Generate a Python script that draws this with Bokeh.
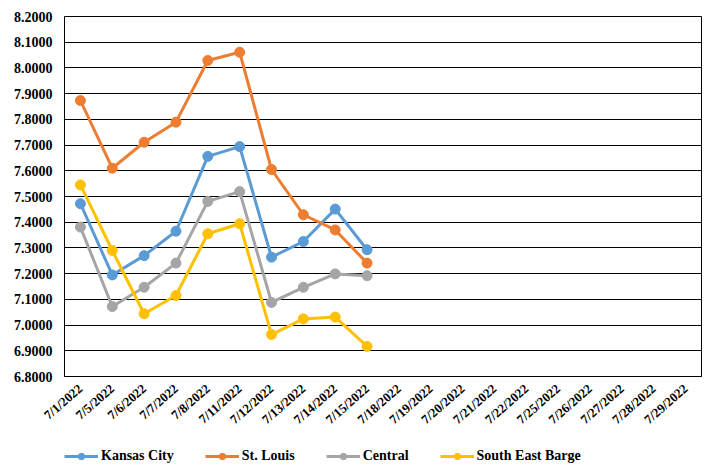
from bokeh.plotting import figure
from bokeh.layouts import column
from bokeh.models import (FactorRange, Range1d, FixedTicker, NumeralTickFormatter,
                          Legend, LegendItem)
from bokeh.embed import file_html
from bokeh.resources import INLINE

dates = ["7/1/2022", "7/5/2022", "7/6/2022", "7/7/2022", "7/8/2022", "7/11/2022",
         "7/12/2022", "7/13/2022", "7/14/2022", "7/15/2022", "7/18/2022", "7/19/2022",
         "7/20/2022", "7/21/2022", "7/22/2022", "7/25/2022", "7/26/2022", "7/27/2022",
         "7/28/2022", "7/29/2022"]
data_dates = dates[:10]

kansas_city = [7.472, 7.195, 7.270, 7.365, 7.656, 7.694, 7.264, 7.325, 7.451, 7.293]
st_louis = [7.873, 7.610, 7.711, 7.789, 8.029, 8.061, 7.605, 7.429, 7.370, 7.241]
central = [7.381, 7.072, 7.147, 7.241, 7.481, 7.519, 7.088, 7.147, 7.199, 7.192]
south_east_barge = [7.545, 7.290, 7.044, 7.115, 7.355, 7.394, 6.963, 7.024, 7.031, 6.917]

series_names = ["Kansas City", "St. Louis", "Central", "South East Barge"]
series_values = [kansas_city, st_louis, central, south_east_barge]
colors = ["#5B9BD5", "#ED7D31", "#A5A5A5", "#FFC000"]

y_ticks = [6.8, 6.9, 7.0, 7.1, 7.2, 7.3, 7.4, 7.5, 7.6, 7.7, 7.8, 7.9, 8.0, 8.1, 8.2]

FONT = "Liberation Serif"

p = figure(x_range=FactorRange(*dates), y_range=Range1d(6.8, 8.2),
           frame_width=637, frame_height=360,
           min_border_left=64, min_border_right=4, min_border_top=16, min_border_bottom=62,
           output_backend="svg", toolbar_location=None)

p.outline_line_color = "black"
p.outline_line_width = 1
p.xgrid.grid_line_color = None
p.ygrid.grid_line_color = "black"
p.ygrid.grid_line_width = 1
p.background_fill_color = "white"
p.border_fill_color = "white"

p.yaxis.ticker = FixedTicker(ticks=y_ticks)
p.yaxis.formatter = NumeralTickFormatter(format="0.0000")
for ax in (p.xaxis[0], p.yaxis[0]):
    ax.axis_line_color = None
    ax.major_tick_line_color = None
    ax.minor_tick_line_color = None
    ax.major_label_text_font = FONT
    ax.major_label_text_font_style = "bold"
    ax.major_label_text_color = "black"
    ax.major_tick_out = 0
    ax.major_tick_in = 0
p.yaxis.major_label_text_font_size = "14px"
p.xaxis.major_label_text_font_size = "13px"
p.yaxis.major_label_standoff = 12
p.xaxis.major_label_standoff = 10
p.xaxis.major_label_orientation = 0.72
p.xaxis.axis_line_color = "black"

for vals, col in zip(series_values, colors):
    p.line(data_dates, vals, line_color=col, line_width=3)
    p.scatter(data_dates, vals, size=10, fill_color=col, line_color=col, marker="circle")

# separate strip holding the legend (its dummy glyphs sit outside the visible range)
lg = figure(width=705, height=28, x_range=Range1d(0, 1), y_range=Range1d(0, 1),
            min_border=0, x_axis_location=None, y_axis_location=None,
            output_backend="svg", toolbar_location=None)
lg.outline_line_color = None
lg.xgrid.grid_line_color = None
lg.ygrid.grid_line_color = None
hidden_x = [-5, -4]
hidden_y = [-5, -4]
items = []
for name, col in zip(series_names, colors):
    r1 = lg.line(hidden_x, hidden_y, line_color=col, line_width=3)
    r2 = lg.scatter(hidden_x, hidden_y, size=10, fill_color=col, line_color=col, marker="circle")
    items.append(LegendItem(label=name, renderers=[r1, r2]))

legend = Legend(items=items, orientation="horizontal", location=(0, 2),
                glyph_width=34, glyph_height=16, label_standoff=3, spacing=31,
                padding=0, margin=0, border_line_color=None, background_fill_alpha=0,
                label_text_font=FONT, label_text_font_style="bold",
                label_text_font_size="14px", label_text_color="black")
lg.add_layout(legend, "center")

layout = column(p, lg, spacing=0)
open("out.html", "w").write(file_html(layout, INLINE))
